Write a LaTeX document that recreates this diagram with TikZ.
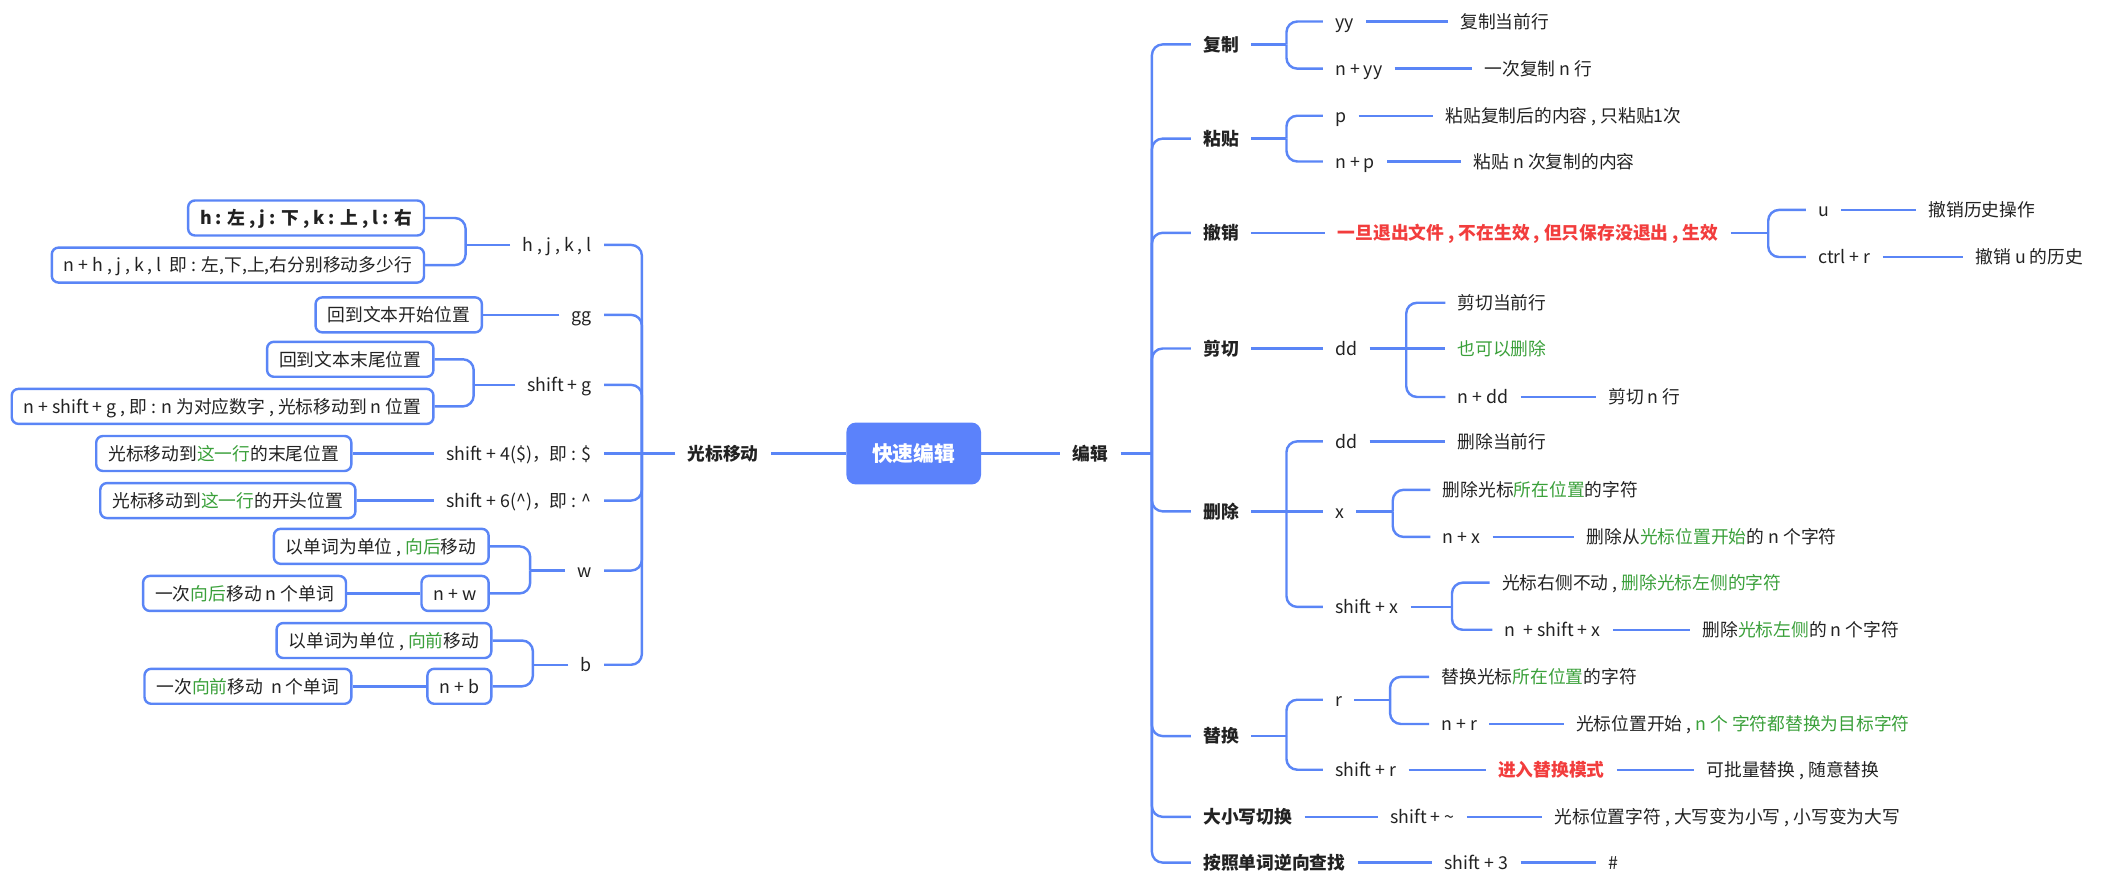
\documentclass[tikz,border=0pt]{standalone}
\usepackage{fontspec}
\setmainfont{Noto Sans CJK SC}
\definecolor{lb}{HTML}{5A85F6}
\definecolor{rootc}{HTML}{5B82FB}
\definecolor{gc}{HTML}{3AA03A}
\definecolor{rc}{HTML}{F23D3D}
\definecolor{tc}{HTML}{222222}
\newcommand\fs{\fontsize{13.2}{15}\selectfont}
\newcommand\gr[1]{\textcolor{gc}{#1}}
\begin{document}
\begin{tikzpicture}[x=1pt,y=-1pt,
  ln/.style={draw=lb, line width=1.8pt, rounded corners=8pt},
  gapa/.style={shorten <=9pt},
  gapb/.style={shorten >=9pt},
  txt/.style={inner sep=0pt, font=\fs, text=tc, anchor=west, text height=11pt, text depth=1pt},
  txtl/.style={txt, anchor=east},
  txtb/.style={txt, font=\fs\bfseries},
  bx/.style={draw=lb, line width=1.8pt, rounded corners=5pt, fill=white, inner xsep=9pt, inner ysep=0pt,
     minimum height=26pt, anchor=east, font=\fs, text=tc, text height=11pt, text depth=1pt},
  rootn/.style={fill=rootc, rounded corners=7pt, minimum width=100pt, minimum height=46pt, text=white,
     font=\fontsize{15.5}{17}\selectfont\bfseries}
]
\useasboundingbox (0,0) rectangle (1568,655);

% ---------- centre ----------
\node[rootn] (root) at (679,337) {快速编辑};
\node[txtb, anchor=east] (gb) at (564,337) {光标移动};
\node[txtb] (bj) at (797,337) {编辑};
\draw[ln, gapb] (root.west) -- (gb.east);
\draw[ln, gapb] (root.east) -- (bj.west);

% ---------- left side ----------
\node[bx] (k1) at (316,162) {\bfseries h : 左 , j : 下 , k : 上 , l : 右};
\node[bx] (k2) at (316,197) {n + h , j , k , l \ 即 : 左,下,上,右分别移动多少行};
\node[txtl] (hjkl) at (440,182) {h , j , k , l};
\coordinate (hb) at (346,182);

\node[bx] (g1) at (359,234) {回到文本开始位置};
\node[txtl] (gg) at (440,234) {gg};

\node[bx] (sg1) at (323,267) {回到文本末尾位置};
\node[bx] (sg2) at (323,302) {n + shift + g , 即 : n 为对应数字 , 光标移动到 n 位置};
\node[txtl] (sg) at (440,286) {shift + g};
\coordinate (sgb) at (352,286);

\node[bx] (s41) at (262,337) {光标移动到\gr{这一行}的末尾位置};
\node[txtl] (s4) at (440,337) {shift + 4(\$)，即 : \$};
\node[bx] (s61) at (265,372) {光标移动到\gr{这一行}的开头位置};
\node[txtl] (s6) at (440,372) {shift + 6(\textasciicircum)，即 : \textasciicircum};

\node[bx] (w1) at (364,406) {以单词为单位 , \gr{向后}移动};
\node[bx] (w2) at (364,441) {n + w};
\node[bx] (w3) at (258,441) {一次\gr{向后}移动 n 个单词};
\node[txtl] (w) at (440,424) {w};
\coordinate (wb) at (394,424);

\node[bx] (b1) at (366,476) {以单词为单位 , \gr{向前}移动};
\node[bx] (b2) at (366,510) {n + b};
\node[bx] (b3) at (262,510) {一次\gr{向前}移动 \ n 个单词};
\node[txtl] (b) at (440,494) {b};
\coordinate (bb) at (396,494);

\coordinate (lt) at (477,337);
\draw[ln, gapa] (gb.west) -- (lt);
\foreach \n in {hjkl,gg,sg,s6,w,b} \draw[ln, gapb] (lt) |- (\n.east);
\draw[ln, gapb] (lt) -- (s4.east);

\draw[ln, gapa] (hjkl.west) -- (hb);
\draw[ln] (hb) |- (k1.east);
\draw[ln] (hb) |- (k2.east);
\draw[ln, gapa] (gg.west) -- (g1.east);
\draw[ln, gapa] (sg.west) -- (sgb);
\draw[ln] (sgb) |- (sg1.east);
\draw[ln] (sgb) |- (sg2.east);
\draw[ln, gapa] (s4.west) -- (s41.east);
\draw[ln, gapa] (s6.west) -- (s61.east);
\draw[ln, gapa] (w.west) -- (wb);
\draw[ln] (wb) |- (w1.east);
\draw[ln] (wb) |- (w2.east);
\draw[ln] (w2.west) -- (w3.east);
\draw[ln, gapa] (b.west) -- (bb);
\draw[ln] (bb) |- (b1.east);
\draw[ln] (bb) |- (b2.east);
\draw[ln] (b2.west) -- (b3.east);

% ---------- right side ----------
\node[txtb] (fz) at (894,33) {复制};
\coordinate (fzb) at (956,33);
\node[txt] (yy) at (992,16) {yy};
\node[txt] (yyd) at (1085,16) {复制当前行};
\node[txt] (nyy) at (992,51) {n + yy};
\node[txt] (nyyd) at (1103,51) {一次复制 n 行};

\node[txtb] (zt) at (894,103) {粘贴};
\coordinate (ztb) at (956,103);
\node[txt] (p) at (992,86) {p};
\node[txt] (pd) at (1074,86) {粘贴复制后的内容 , 只粘贴1次};
\node[txt] (np) at (992,120) {n + p};
\node[txt] (npd) at (1095,120) {粘贴 n 次复制的内容};

\node[txtb] (cx) at (894,173) {撤销};
\node[txt, font=\fs\bfseries, text=rc] (red) at (994,173) {一旦退出文件 , 不在生效 , 但只保存没退出 , 生效};
\coordinate (cxb) at (1314,173);
\node[txt] (u) at (1351,156) {u};
\node[txt] (ud) at (1433,156) {撤销历史操作};
\node[txt] (cr) at (1351,191) {ctrl + r};
\node[txt] (crd) at (1468,191) {撤销 u 的历史};

\node[txtb] (jq) at (894,259) {剪切};
\node[txt] (jdd) at (992,259) {dd};
\coordinate (jqb) at (1045,259);
\node[txt] (jq1) at (1083,225) {剪切当前行};
\node[txt, text=gc] (jq2) at (1083,259) {也可以删除};
\node[txt] (jq3) at (1083,295) {n + dd};
\node[txt] (jq3d) at (1195,295) {剪切 n 行};

\node[txtb] (sc) at (894,380) {删除};
\coordinate (scb) at (956,380);
\node[txt] (sdd) at (992,328) {dd};
\node[txt] (sddd) at (1083,328) {删除当前行};
\node[txt] (sx) at (992,380) {x};
\coordinate (sxb) at (1035,380);
\node[txt] (sx1) at (1072,364) {删除光标\gr{所在位置}的字符};
\node[txt] (sx2) at (1072,399) {n + x};
\node[txt] (sx2d) at (1179,399) {删除从\gr{光标位置开始}的 n 个字符};
\node[txt] (ssx) at (992,451) {shift + x};
\coordinate (ssxb) at (1079,451);
\node[txt] (ssx1) at (1116,433) {光标右侧不动 , \gr{删除光标左侧的字符}};
\node[txt] (ssx2) at (1118,468) {n \ + shift + x};
\node[txt] (ssx2d) at (1265,468) {删除\gr{光标左侧}的 n 个字符};

\node[txtb] (th) at (894,547) {替换};
\coordinate (thb) at (956,547);
\node[txt] (r) at (992,520) {r};
\coordinate (rb) at (1033,520);
\node[txt] (r1) at (1071,503) {替换光标\gr{所在位置}的字符};
\node[txt] (r2) at (1071,538) {n + r};
\node[txt] (r2d) at (1171,538) {光标位置开始 , \gr{n 个 字符都替换为目标字符}};
\node[txt] (sr) at (992,572) {shift + r};
\node[txt, font=\fs\bfseries, text=rc] (srm) at (1113,572) {进入替换模式};
\node[txt] (srd) at (1268,572) {可批量替换 , 随意替换};

\node[txtb] (dx) at (894,607) {大小写切换};
\node[txt] (dxs) at (1033,607) {shift + \textasciitilde};
\node[txt] (dxd) at (1155,607) {光标位置字符 , 大写变为小写 , 小写变为大写};

\node[txtb] (az) at (894,641) {按照单词逆向查找};
\node[txt] (azs) at (1073,641) {shift + 3};
\node[txt] (azd) at (1195,641) {\#};

\coordinate (rt) at (856,337);
\draw[ln, gapa] (bj.east) -- (rt);
\foreach \n in {fz,zt,cx,jq,sc,th,dx,az} \draw[ln, gapb] (rt) |- (\n.west);

% 复制
\draw[ln, gapa] (fz.east) -- (fzb);
\draw[ln, gapb] (fzb) |- (yy.west);
\draw[ln, gapb] (fzb) |- (nyy.west);
\draw[ln, gapa, gapb] (yy.east) -- (yyd.west);
\draw[ln, gapa, gapb] (nyy.east) -- (nyyd.west);
% 粘贴
\draw[ln, gapa] (zt.east) -- (ztb);
\draw[ln, gapb] (ztb) |- (p.west);
\draw[ln, gapb] (ztb) |- (np.west);
\draw[ln, gapa, gapb] (p.east) -- (pd.west);
\draw[ln, gapa, gapb] (np.east) -- (npd.west);
% 撤销
\draw[ln, gapa, gapb] (cx.east) -- (red.west);
\draw[ln, gapa] (red.east) -- (cxb);
\draw[ln, gapb] (cxb) |- (u.west);
\draw[ln, gapb] (cxb) |- (cr.west);
\draw[ln, gapa, gapb] (u.east) -- (ud.west);
\draw[ln, gapa, gapb] (cr.east) -- (crd.west);
% 剪切
\draw[ln, gapa, gapb] (jq.east) -- (jdd.west);
\draw[ln, gapa] (jdd.east) -- (jqb);
\draw[ln, gapb] (jqb) |- (jq1.west);
\draw[ln, gapb] (jqb) -- (jq2.west);
\draw[ln, gapb] (jqb) |- (jq3.west);
\draw[ln, gapa, gapb] (jq3.east) -- (jq3d.west);
% 删除
\draw[ln, gapa] (sc.east) -- (scb);
\draw[ln, gapb] (scb) |- (sdd.west);
\draw[ln, gapb] (scb) -- (sx.west);
\draw[ln, gapb] (scb) |- (ssx.west);
\draw[ln, gapa, gapb] (sdd.east) -- (sddd.west);
\draw[ln, gapa] (sx.east) -- (sxb);
\draw[ln, gapb] (sxb) |- (sx1.west);
\draw[ln, gapb] (sxb) |- (sx2.west);
\draw[ln, gapa, gapb] (sx2.east) -- (sx2d.west);
\draw[ln, gapa] (ssx.east) -- (ssxb);
\draw[ln, gapb] (ssxb) |- (ssx1.west);
\draw[ln, gapb] (ssxb) |- (ssx2.west);
\draw[ln, gapa, gapb] (ssx2.east) -- (ssx2d.west);
% 替换
\draw[ln, gapa] (th.east) -- (thb);
\draw[ln, gapb] (thb) |- (r.west);
\draw[ln, gapb] (thb) |- (sr.west);
\draw[ln, gapa] (r.east) -- (rb);
\draw[ln, gapb] (rb) |- (r1.west);
\draw[ln, gapb] (rb) |- (r2.west);
\draw[ln, gapa, gapb] (r2.east) -- (r2d.west);
\draw[ln, gapa, gapb] (sr.east) -- (srm.west);
\draw[ln, gapa, gapb] (srm.east) -- (srd.west);
% 大小写切换
\draw[ln, gapa, gapb] (dx.east) -- (dxs.west);
\draw[ln, gapa, gapb] (dxs.east) -- (dxd.west);
% 按照单词逆向查找
\draw[ln, gapa, gapb] (az.east) -- (azs.west);
\draw[ln, gapa, gapb] (azs.east) -- (azd.west);
\end{tikzpicture}
\end{document}
